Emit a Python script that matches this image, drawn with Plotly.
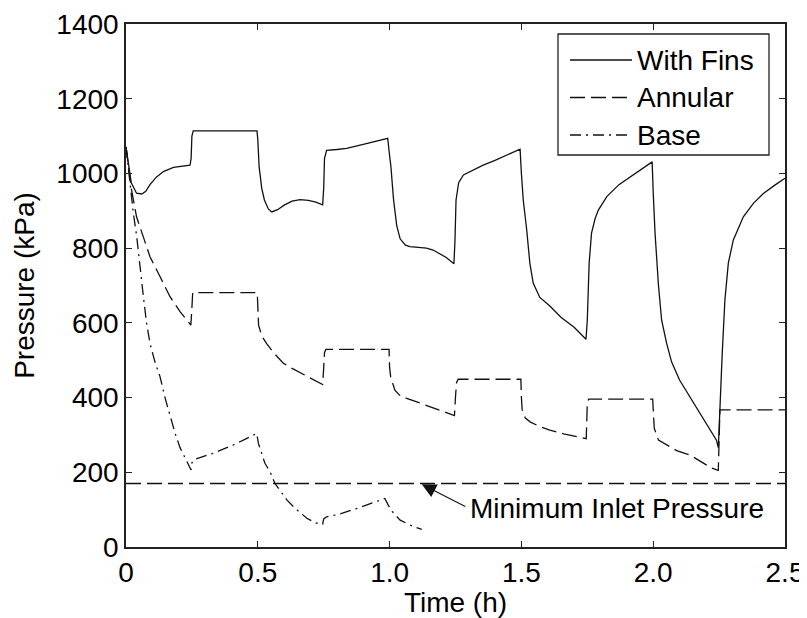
import plotly.graph_objects as go

# ---------------- data ----------------
series_names = ["With Fins", "Annular", "Base"]

fins_t = [0, 0.008, 0.02, 0.04, 0.06, 0.075, 0.091, 0.115, 0.142, 0.18, 0.243, 0.247, 0.25, 0.255,
          0.497, 0.5, 0.505, 0.515, 0.525, 0.54, 0.553, 0.575, 0.6, 0.63, 0.66, 0.692, 0.72, 0.746,
          0.75, 0.753, 0.761, 0.8, 0.837, 0.9, 0.95, 0.993, 0.998, 1.005, 1.015, 1.027, 1.04, 1.06,
          1.077, 1.11, 1.14, 1.165, 1.19, 1.215, 1.244, 1.248, 1.252, 1.262, 1.28, 1.32, 1.355, 1.4,
          1.45, 1.495, 1.5, 1.507, 1.52, 1.532, 1.545, 1.57, 1.608, 1.65, 1.7, 1.745, 1.75, 1.757,
          1.766, 1.78, 1.792, 1.824, 1.87, 1.912, 1.95, 1.996, 2.0, 2.007, 2.02, 2.032, 2.051, 2.07,
          2.1, 2.14, 2.177, 2.21, 2.24, 2.247, 2.253, 2.262, 2.272, 2.285, 2.304, 2.342, 2.38, 2.418,
          2.46, 2.5]
fins_p = [1071, 1030, 975, 947, 945, 952, 970, 990, 1005, 1016, 1022, 1040, 1100, 1114,
          1114, 1090, 1018, 960, 929, 905, 897, 903, 915, 926, 930, 928, 923, 916,
          960, 1040, 1062, 1064, 1067, 1078, 1087, 1094, 1060, 1018, 930, 860, 825, 808,
          804, 802, 800, 795, 786, 775, 758, 820, 929, 975, 996, 1010, 1022, 1035,
          1050, 1065, 1000, 929, 850, 760, 706, 668, 645, 615, 588, 556, 607, 760,
          840, 880, 902, 938, 970, 991, 1010, 1031, 950, 840, 700, 607, 545, 495,
          447, 400, 358, 320, 286, 266, 385, 520, 661, 760, 822, 884, 920, 946,
          968, 987]

annular_t = [0, 0.02, 0.04, 0.066, 0.091, 0.129, 0.167, 0.205, 0.243, 0.246, 0.25, 0.253,
             0.498, 0.5, 0.503, 0.515, 0.533, 0.56, 0.597, 0.63, 0.66, 0.7, 0.742, 0.746,
             0.75, 0.753, 0.758, 0.998, 1.0, 1.004, 1.02, 1.04, 1.065, 1.11, 1.153, 1.2, 1.246,
             1.25, 1.254, 1.26, 1.498, 1.5, 1.503, 1.515, 1.533, 1.57, 1.608, 1.66, 1.7, 1.746,
             1.75, 1.755, 1.998, 2.0, 2.004, 2.02, 2.064, 2.089, 2.14, 2.222, 2.247, 2.25, 2.253, 2.5]
annular_p = [1071, 960, 884, 831, 777, 724, 670, 630, 599, 594, 640, 681,
             681, 640, 594, 565, 545, 520, 492, 478, 467, 452, 438, 435,
             480, 520, 529, 529, 480, 456, 420, 405, 398, 387, 376, 364, 352,
             402, 440, 449, 449, 400, 367, 345, 335, 322, 313, 303, 297, 290,
             385, 396, 396, 350, 318, 286, 268, 258, 246, 211, 205, 300, 367, 367]

base_t = [0, 0.015, 0.028, 0.04, 0.053, 0.066, 0.078, 0.091, 0.11, 0.129, 0.148, 0.167, 0.186,
          0.205, 0.225, 0.243, 0.247, 0.25, 0.255, 0.331, 0.407, 0.451, 0.496, 0.502, 0.515,
          0.527, 0.546, 0.565, 0.61, 0.641, 0.686, 0.717, 0.746, 0.75, 0.761, 0.806, 0.888,
          0.964, 0.982, 0.995, 1.01, 1.04, 1.08, 1.122]
base_p = [1071, 965, 893, 835, 745, 670, 600, 545, 495, 456, 400, 349, 305,
          266, 236, 208, 206, 225, 233, 251, 273, 288, 304, 278, 250,
          224, 202, 170, 126, 104, 77, 65, 61, 75, 81, 87, 106,
          126, 130, 112, 95, 72, 58, 47]

min_inlet_t = [0, 2.5]
min_inlet_p = [170, 170]
min_inlet_label = "Minimum Inlet Pressure"
arrow_t, arrow_p = 1.122, 168

x_ticks = [0, 0.5, 1.0, 1.5, 2.0, 2.5]
x_tick_labels = ["0", "0.5", "1.0", "1.5", "2.0", "2.5"]
y_ticks = [0, 200, 400, 600, 800, 1000, 1200, 1400]

# ---------------- styles ----------------
FONT = "Liberation Sans, Arial, Helvetica, sans-serif"
FS = 28
LW = 1.3
DASH = "15px,6px"
DASHDOT = "11px,5px,2px,5px"
styles = [dict(dash="solid"), dict(dash=DASH), dict(dash=DASHDOT)]

fig = go.Figure()
for name, t, p, st in zip(series_names, [fins_t, annular_t, base_t],
                          [fins_p, annular_p, base_p], styles):
    fig.add_trace(go.Scatter(x=t, y=p, mode="lines", name=name, showlegend=False,
                             line=dict(color="#111111", width=LW, dash=st["dash"])))

fig.add_trace(go.Scatter(x=min_inlet_t, y=min_inlet_p, mode="lines", showlegend=False,
                         line=dict(color="#111111", width=LW, dash=DASH)))

# page has an 8px body margin; figure sized so that it reaches the window edges
OFF = 8
FIG_W, FIG_H = 807 - OFF, 618 - OFF
# plot area in page pixels
PL, PR, PT, PB = 126, 785, 24, 547
PW, PH = PR - PL, PB - PT


def px2paper(xp, yp):
    return (xp - PL) / PW, (PB - yp) / PH


shapes = []
annotations = []

# custom legend (MATLAB-like long line samples)
bx0, by0 = px2paper(558, 155)
bx1, by1 = px2paper(769, 34)
shapes.append(dict(type="rect", xref="paper", yref="paper", x0=bx0, y0=by0, x1=bx1, y1=by1,
                   line=dict(color="#222222", width=1.3), fillcolor="white", layer="above"))
for i, (name, st) in enumerate(zip(series_names, styles)):
    yc = 60 + i * 37.5
    lx0, ly = px2paper(570, yc)
    lx1, _ = px2paper(632, yc)
    tx, _ = px2paper(635, yc)
    shapes.append(dict(type="line", xref="paper", yref="paper", x0=lx0, x1=lx1, y0=ly, y1=ly,
                       line=dict(color="#111111", width=LW, dash=st["dash"]), layer="above"))
    annotations.append(dict(xref="paper", yref="paper", x=tx, y=ly, text=name, showarrow=False,
                            xanchor="left", yanchor="middle",
                            font=dict(family=FONT, size=FS, color="black")))

# min inlet label and arrow
annotations.append(dict(x=1.297, y=104, xref="x", yref="y", text=min_inlet_label, showarrow=False,
                        xanchor="left", yanchor="middle",
                        font=dict(family=FONT, size=FS, color="black")))
annotations.append(dict(x=arrow_t, y=arrow_p, xref="x", yref="y", text="", showarrow=True,
                        ax=45, ay=23, arrowhead=2, arrowsize=2.6, arrowwidth=1.1,
                        arrowcolor="#111111"))

axis_common = dict(showgrid=False, zeroline=False, showline=True, linecolor="#222222",
                   linewidth=1.5, mirror="ticks", ticks="inside", ticklen=6, tickwidth=1.3,
                   tickcolor="#222222", ticklabeloverflow="allow",
                   tickfont=dict(family=FONT, size=FS, color="black"))

fig.update_layout(
    width=FIG_W, height=FIG_H,
    margin=dict(l=PL - OFF, r=FIG_W - (PR - OFF), t=PT - OFF, b=FIG_H - (PB - OFF),
                autoexpand=False),
    paper_bgcolor="white", plot_bgcolor="white",
    showlegend=False,
    xaxis=dict(range=[0, 2.5], tickvals=x_ticks, ticktext=x_tick_labels,
               title=dict(text="Time (h)", font=dict(family=FONT, size=FS, color="black"), standoff=7),
               **axis_common),
    yaxis=dict(range=[0, 1400], tickvals=y_ticks,
               title=dict(text="Pressure (kPa)", font=dict(family=FONT, size=FS, color="black"), standoff=14),
               **axis_common),
    shapes=shapes,
    annotations=annotations,
)

fig.write_html("out.html")
